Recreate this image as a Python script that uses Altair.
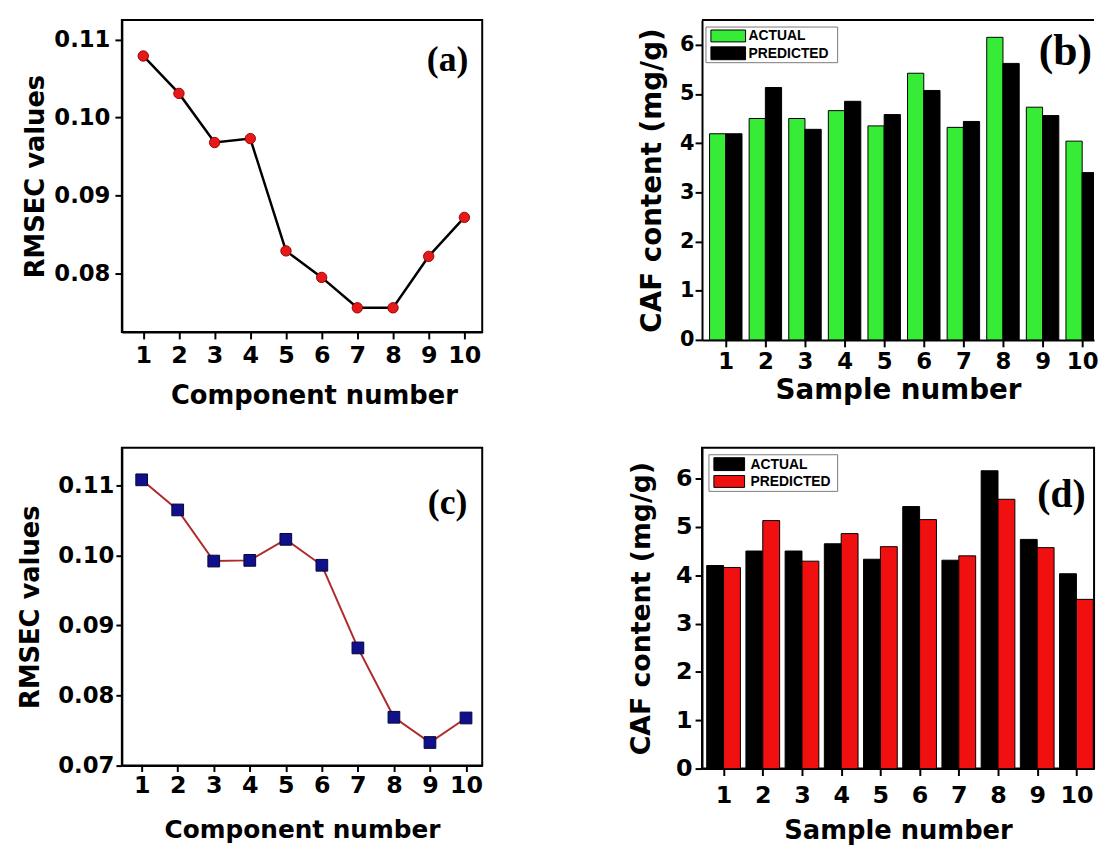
import altair as alt
import pandas as pd

# ---------------- data ----------------
component_numbers = [1, 2, 3, 4, 5, 6, 7, 8, 9, 10]
rmsec_a = [0.1079, 0.1031, 0.0968, 0.0973, 0.0829, 0.0795, 0.0756, 0.0756, 0.0822, 0.0872]
rmsec_c = [0.1108, 0.1065, 0.0992, 0.0993, 0.1023, 0.0986, 0.0868, 0.0769, 0.0733, 0.0768]

sample_numbers = [1, 2, 3, 4, 5, 6, 7, 8, 9, 10]
actual_b = [4.19, 4.50, 4.50, 4.66, 4.35, 5.42, 4.32, 6.15, 4.73, 4.04]
predicted_b = [4.19, 5.13, 4.28, 4.85, 4.58, 5.07, 4.44, 5.62, 4.56, 3.40]
actual_d = [4.20, 4.50, 4.50, 4.65, 4.33, 5.42, 4.31, 6.16, 4.74, 4.03]
predicted_d = [4.16, 5.13, 4.29, 4.86, 4.59, 5.15, 4.40, 5.57, 4.57, 3.50]

series_names = ["ACTUAL", "PREDICTED"]
panel_labels = ["(a)", "(b)", "(c)", "(d)"]
rmsec_ticks_a = [0.08, 0.09, 0.10, 0.11]
rmsec_ticks_c = [0.07, 0.08, 0.09, 0.10, 0.11]
caf_ticks = [0, 1, 2, 3, 4, 5, 6]

SANS = "DejaVu Sans"
ARIAL = "Liberation Sans"
SERIF = "Liberation Serif"


def make_axis(title, values, label_size, title_size, tick_size, label_pad,
              title_pad, fmt=None, title_x=None):
    kw = dict(title=title, values=values, labelFont=SANS, labelFontSize=label_size,
              labelFontWeight="bold", labelColor="black", titleFont=SANS,
              titleFontSize=title_size, titleFontWeight="bold", titleColor="black",
              tickSize=tick_size, tickWidth=2, tickColor="black", domainColor="black",
              domainWidth=2, labelPadding=label_pad, titlePadding=title_pad,
              grid=False, labelFlush=False, labelOverlap=False)
    if fmt is not None:
        kw["format"] = fmt
    if title_x is not None:
        kw["titleX"] = title_x
    return alt.Axis(**kw)


def label_layer(text, x, y, size):
    return alt.Chart(pd.DataFrame({"label": [text]})).mark_text(
        font=SERIF, fontSize=size, fontWeight="bold", color="black",
        align="center", baseline="middle"
    ).encode(x=alt.value(x), y=alt.value(y), text="label:N")


def line_panel(values, label, x_dom, y_dom, xaxis, yaxis, line_color, line_w,
               shape, fill, stroke, size, lab_xy, lab_size, w, h):
    df = pd.DataFrame({"component": component_numbers, "rmsec": values})
    base = alt.Chart(df).encode(
        x=alt.X("component:Q", scale=alt.Scale(domain=x_dom, nice=False, zero=False), axis=xaxis),
        y=alt.Y("rmsec:Q", scale=alt.Scale(domain=y_dom, nice=False, zero=False), axis=yaxis),
    )
    line = base.mark_line(color=line_color, strokeWidth=line_w)
    pts = base.mark_point(shape=shape, filled=True, fill=fill, stroke=stroke,
                          strokeWidth=1, size=size, opacity=1)
    lab = label_layer(label, lab_xy[0], lab_xy[1], lab_size)
    return alt.layer(line, pts, lab).properties(width=w, height=h)


def bar_panel(actual, predicted, colors, bar_w, label, x_dom, y_dom, xaxis, yaxis,
              lab_xy, lab_size, box, swatch_x, swatch_ys, text_x, w, h, open_right=False):
    df = pd.DataFrame({
        "sample": sample_numbers * 2,
        "series": [series_names[0]] * len(actual) + [series_names[1]] * len(predicted),
        "value": actual + predicted,
    })
    color_scale = alt.Scale(domain=series_names, range=colors)
    first = series_names[0]
    bars = alt.Chart(df).transform_calculate(
        left=f"datum.series == '{first}' ? datum.sample - {bar_w} : datum.sample",
        right=f"datum.series == '{first}' ? datum.sample : datum.sample + {bar_w}",
    ).mark_bar(stroke="black", strokeWidth=1, clip=True).encode(
        x=alt.X("left:Q", scale=alt.Scale(domain=x_dom, nice=False, zero=False), axis=xaxis),
        x2="right:Q",
        y=alt.Y("value:Q", scale=alt.Scale(domain=y_dom, nice=False), axis=yaxis),
        y2=alt.datum(0),
        color=alt.Color("series:N", scale=color_scale, legend=None),
    )
    layers = [bars]
    one = pd.DataFrame({"label": [label]})
    # legend box
    layers.append(alt.Chart(one).mark_rect(fill="white", stroke="#7a7a7a", strokeWidth=1).encode(
        x=alt.value(box[0]), x2=alt.value(box[1]), y=alt.value(box[2]), y2=alt.value(box[3])))
    leg_df = pd.DataFrame({"series": series_names})
    for i, name in enumerate(series_names):
        y0, y1 = swatch_ys[i]
        layers.append(alt.Chart(leg_df).transform_filter(alt.datum.series == name).mark_rect(
            stroke="black", strokeWidth=1).encode(
            x=alt.value(swatch_x[0]), x2=alt.value(swatch_x[1]),
            y=alt.value(y0), y2=alt.value(y1),
            color=alt.Color("series:N", scale=color_scale, legend=None)))
        layers.append(alt.Chart(leg_df).transform_filter(alt.datum.series == name).mark_text(
            font=ARIAL, fontSize=14, fontWeight="bold", color="black",
            align="left", baseline="middle").encode(
            x=alt.value(text_x), y=alt.value((y0 + y1) / 2 + 0.5), text="series:N"))
    layers.append(label_layer(label, lab_xy[0], lab_xy[1], lab_size))
    props = dict(width=w, height=h)
    if open_right:
        layers.append(alt.Chart(one).mark_rule(color="black", strokeWidth=2).encode(
            x=alt.value(0), x2=alt.value("width"), y=alt.value(0)))
        props["view"] = alt.ViewBackground(stroke="transparent")
    return alt.layer(*layers).properties(**props)


panel_a = line_panel(
    rmsec_a, panel_labels[0], [0.4, 10.5], [0.0725, 0.1125],
    make_axis("Component number", component_numbers, 24, 26, 7, 5, 15, title_x=194),
    make_axis("RMSEC values", rmsec_ticks_a, 23, 26, 7, 5, 5.5, fmt=".2f"),
    "black", 2.5, "circle", "#e41a1a", "#a00000", 110, (329, 40), 36, 364, 315)

panel_b = bar_panel(
    actual_b, predicted_b, ["#36ec36", "#000000"], 0.41, panel_labels[1],
    [0.4, 10.3], [0, 6.5],
    make_axis("Sample number", sample_numbers, 23, 28, 7, 4, 3),
    make_axis("CAF content (mg/g)", caf_ticks, 21, 28, 7, 1, 13),
    (367, 32), 44, (4, 137, 7, 43), (9, 44), [(10, 22), (27, 40)], 47, 396, 323,
    open_right=True)

panel_c = line_panel(
    rmsec_c, panel_labels[2], [0.45, 10.45], [0.07, 0.11537],
    make_axis("Component number", component_numbers, 24, 25, 6, 2, 21),
    make_axis("RMSEC values", rmsec_ticks_c, 23, 26, 6, 2, 14.5, fmt=".2f"),
    "#b02a2a", 2, "square", "#10108a", "#05053a", 140, (329, 55.5), 36, 364, 321)

panel_d = bar_panel(
    actual_d, predicted_d, ["#000000", "#f01010"], 0.43, panel_labels[3],
    [0.45, 10.45], [0, 6.635],
    make_axis("Sample number", sample_numbers, 24, 26, 7, 8, 11),
    make_axis("CAF content (mg/g)", caf_ticks, 24, 27, 7, 3, 20),
    (363, 47.5), 40, (7, 137, 7, 44), (12, 43), [(10, 23), (28, 40)], 49, 396, 324)

chart = alt.concat(
    panel_a, panel_b, panel_c, panel_d,
    columns=2, spacing={"row": 109, "column": 222}, bounds="flush",
).resolve_scale(color="independent").properties(
    padding={"left": 8, "top": 6, "right": 0, "bottom": 0},
    background="white",
).configure_view(stroke="black", strokeWidth=2)

chart.save("out.html", embed_options={"renderer": "svg", "actions": False})
